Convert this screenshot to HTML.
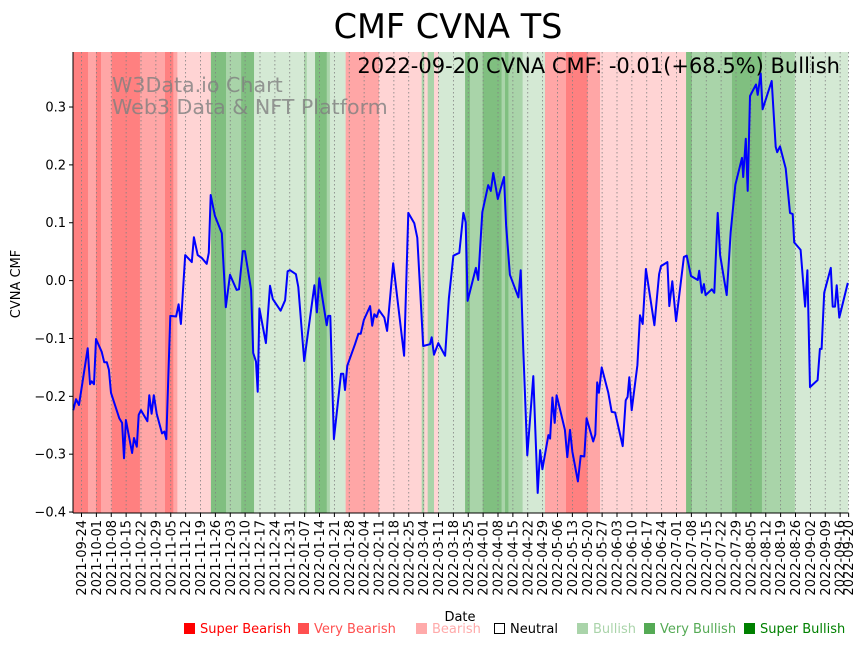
<!DOCTYPE html>
<html><head><meta charset="utf-8"><style>
html,body{margin:0;padding:0;background:#fff;}
svg{display:block;font-family:"DejaVu Sans","Liberation Sans",sans-serif;}
</style></head><body>
<svg id="chart" width="867" height="646" viewBox="0 0 867 646">
<text x="448" y="38" font-size="33.5" text-anchor="middle">CMF CVNA TS</text>
<g id="bands"></g>
<g id="grid"></g>
<text x="112" y="92" font-size="20.6" fill="#808080" fill-opacity="0.8">W3Data.io Chart</text>
<text x="112" y="114" font-size="20.6" fill="#808080" fill-opacity="0.8">Web3 Data &amp; NFT Platform</text>
<path id="line" fill="none" stroke="#0000ff" stroke-width="2" stroke-linejoin="round"></path>
<text x="840" y="73" font-size="21" text-anchor="end">2022-09-20 CVNA CMF: -0.01(+68.5%) Bullish</text>
<g id="yaxis"></g>
<g id="xaxis"></g>
<line x1="73" y1="52" x2="73" y2="513" stroke="#000" stroke-width="1"/>
<line x1="73" y1="513" x2="848" y2="513" stroke="#000" stroke-width="1"/>
<text transform="translate(20,284) rotate(-90)" font-size="13" text-anchor="middle">CVNA CMF</text>
<text x="460" y="621" font-size="13" text-anchor="middle">Date</text>
<g id="legend"></g>
</svg>
<script>
// days since 2021-09-20
const days = [0.1,1.4,2.8,6.9,8.0,8.8,9.9,10.8,13.5,14.7,15.9,16.9,17.9,21.8,23.1,24.0,24.9,27.8,28.7,30.0,30.9,32.0,35.0,35.9,37.0,38.0,39.4,41.9,43.0,43.9,45.8,48.5,49.7,50.8,52.8,55.9,56.9,58.7,60.6,62.9,63.9,64.8,66.8,70.0,71.9,73.9,77.0,78.1,79.9,80.9,83.8,84.8,86.1,86.9,87.7,90.8,92.7,94.0,97.7,99.8,101.0,102.1,104.9,106.0,108.8,113.6,114.8,115.9,119.4,120.1,121.1,122.8,126.1,127.2,128.0,129.1,132.7,134.3,135.4,136.9,139.8,140.8,141.8,142.9,144.0,146.5,147.8,150.7,155.8,157.8,160.6,162.0,164.8,168.0,168.8,169.9,171.9,175.1,176.9,179.0,181.8,183.7,184.8,185.7,189.6,190.7,192.6,195.4,196.6,197.8,199.9,202.8,203.8,205.6,209.6,210.7,211.9,213.8,216.6,218.7,219.8,220.9,223.7,224.5,225.6,226.7,227.6,231.5,232.6,233.9,235.0,237.6,238.9,240.6,241.7,244.8,245.8,246.7,247.5,248.8,251.9,253.5,255.1,258.7,260.1,261.0,261.8,262.9,265.6,266.8,268.1,269.6,273.6,275.8,276.7,279.7,280.6,282.0,283.8,287.5,288.8,290.8,294.0,294.7,295.9,296.9,297.7,300.6,301.8,303.4,304.5,307.6,309.5,310.4,311.7,314.8,315.4,316.6,317.5,318.6,321.4,322.2,323.6,324.5,328.8,330.7,331.4,332.7,335.4,337.4,338.7,339.4,342.4,344.5,345.6,346.8,350.4,351.5,352.3,353.5,356.6,357.5,358.6,359.4,360.6,364.6];
const cmf = [-0.224,-0.205,-0.215,-0.117,-0.179,-0.174,-0.179,-0.101,-0.123,-0.141,-0.141,-0.154,-0.194,-0.238,-0.246,-0.307,-0.241,-0.298,-0.272,-0.287,-0.232,-0.224,-0.243,-0.198,-0.230,-0.198,-0.230,-0.264,-0.261,-0.274,-0.061,-0.062,-0.041,-0.075,0.044,0.032,0.075,0.044,0.039,0.029,0.048,0.148,0.112,0.082,-0.046,0.010,-0.016,-0.015,0.051,0.051,-0.016,-0.125,-0.140,-0.192,-0.048,-0.108,-0.009,-0.032,-0.052,-0.034,0.016,0.018,0.011,-0.011,-0.139,-0.008,-0.055,0.004,-0.077,-0.061,-0.061,-0.274,-0.161,-0.161,-0.189,-0.147,-0.110,-0.092,-0.092,-0.068,-0.044,-0.078,-0.058,-0.063,-0.051,-0.064,-0.087,0.030,-0.130,0.117,0.099,0.074,-0.113,-0.110,-0.098,-0.128,-0.108,-0.130,-0.030,0.043,0.048,0.117,0.101,-0.035,0.022,0.001,0.118,0.165,0.155,0.186,0.141,0.179,0.096,0.010,-0.029,0.018,-0.120,-0.302,-0.165,-0.367,-0.293,-0.326,-0.267,-0.273,-0.202,-0.246,-0.198,-0.258,-0.305,-0.258,-0.296,-0.347,-0.303,-0.304,-0.238,-0.278,-0.266,-0.176,-0.194,-0.150,-0.194,-0.227,-0.228,-0.286,-0.207,-0.201,-0.167,-0.224,-0.146,-0.060,-0.075,0.020,-0.077,0.011,0.025,0.032,-0.044,-0.001,-0.070,0.041,0.043,0.008,0.001,0.017,-0.021,-0.006,-0.025,-0.015,-0.021,0.117,0.044,-0.025,0.084,0.118,0.166,0.212,0.179,0.245,0.155,0.319,0.339,0.321,0.358,0.296,0.345,0.231,0.222,0.232,0.194,0.117,0.115,0.066,0.053,-0.045,0.018,-0.184,-0.172,-0.118,-0.118,-0.021,0.022,-0.045,-0.045,-0.008,-0.064,-0.004];
const bandStart = [0,7.1,10.8,13.2,18.2,31.5,43.3,47.2,49.1,64.9,72,79.1,85.2,108.8,110,113.9,119.4,120.9,128.3,144,164.1,165.3,166.9,169.9,171.9,184.5,186.8,192.8,201.7,203.3,204.9,211.6,222.1,232,242.2,248,288.5,291.2,310.1,324.2,339.7];
const bandEnd = [7.1,10.8,13.2,18.2,31.5,43.3,47.2,49.1,64.9,72,79.1,85.2,108.8,110,113.9,119.4,120.9,128.3,144,164.1,165.3,166.9,169.9,171.9,184.5,186.8,192.8,201.7,203.3,204.9,211.6,222.1,232,242.2,248,288.5,291.2,310.1,324.2,339.7,364.7];
const bandCat = ['SBear','VBear','SBear','VBear','SBear','VBear','SBear','VBear','Bear','SBull','VBull','SBull','Bull','VBull','Bull','SBull','VBull','Bull','VBear','Bear','VBull','Bear','VBull','Bear','Bull','SBull','VBull','SBull','VBull','SBull','VBull','Bull','VBear','SBear','VBear','Bear','SBull','VBull','SBull','VBull','Bull'];
const yTicks = [-0.4,-0.3,-0.2,-0.1,0.0,0.1,0.2,0.3];
const yTickLabels = ['−0.4','−0.3','−0.2','−0.1','0.0','0.1','0.2','0.3'];
const legendLabels = ['Super Bearish','Very Bearish','Bearish','Neutral','Bullish','Very Bullish','Super Bullish'];

const NS='http://www.w3.org/2000/svg';
const X0=73, X1=848, PXD=2.125;
function xs(d){return X0+d*PXD;}
function ys(v){return 280.6-v*578.6;}
function mk(tag,attrs,parent){const e=document.createElementNS(NS,tag);for(const k in attrs)e.setAttribute(k,attrs[k]);parent.appendChild(e);return e;}
const catColor={SBear:'#ff8080',VBear:'#ffa6a6',Bear:'#ffd4d4',Bull:'#d4e9d4',VBull:'#a9d4a9',SBull:'#80bf80'};
const gB=document.getElementById('bands');
for(let i=0;i<bandStart.length;i++){
  const r=mk('rect',{x:xs(bandStart[i]),y:52,width:Math.max(0,xs(bandEnd[i])-xs(bandStart[i])+0.3),height:461,fill:catColor[bandCat[i]]},gB);
  
  
}
const base=new Date(Date.UTC(2021,8,20));
const tickDays=[];for(let d=4;d<=361;d+=7)tickDays.push(d);tickDays.push(365);
const gG=document.getElementById('grid'), gX=document.getElementById('xaxis');
function fmt(d){const t=new Date(base.getTime()+d*86400000);return t.toISOString().slice(0,10);}
tickDays.forEach(d=>{
  const x=xs(d);
  const gl=mk('line',{x1:x,y1:52,x2:x,y2:513,stroke:'#808080','stroke-width':0.8,'stroke-dasharray':'1.5,2.5'},gG);
  
  
  mk('line',{x1:x,y1:513,x2:x,y2:517,stroke:'#000'},gX);
  const t=mk('text',{transform:`translate(${x+4.5},520) rotate(-90)`,'font-size':13,'text-anchor':'end'},gX);
  t.textContent=fmt(d);
  
  
});
const gY=document.getElementById('yaxis');
yTicks.forEach((v,i)=>{
  const y=ys(v);
  mk('line',{x1:69,y1:y,x2:73,y2:y,stroke:'#000'},gY);
  const t=mk('text',{x:66,y:y+4.5,'font-size':13,'text-anchor':'end'},gY);
  t.textContent=yTickLabels[i];
  
  
});
document.getElementById('line').setAttribute('d',days.map((d,i)=>(i?'L':'M')+xs(d).toFixed(1)+','+ys(cmf[i]).toFixed(1)).join(''));
const lg=document.getElementById('legend');
const lgX=[184,298,416,494,577,644,744];
const lgCol=['#ff0000','#ff5050','#ffaaaa','#000000','#aad4aa','#55aa55','#008000'];
legendLabels.forEach((lab,i)=>{
  const g=mk('g',{},lg);
  
  
  if(i===3) mk('rect',{x:lgX[i]+0.5,y:623.5,width:10,height:10,fill:'none',stroke:'#000'},g);
  else mk('rect',{x:lgX[i],y:623,width:11,height:11,fill:lgCol[i]},g);
  const t=mk('text',{x:lgX[i]+16,y:633,'font-size':13,fill:lgCol[i]},g);
  t.textContent=lab;
});
</script>
</body></html>
